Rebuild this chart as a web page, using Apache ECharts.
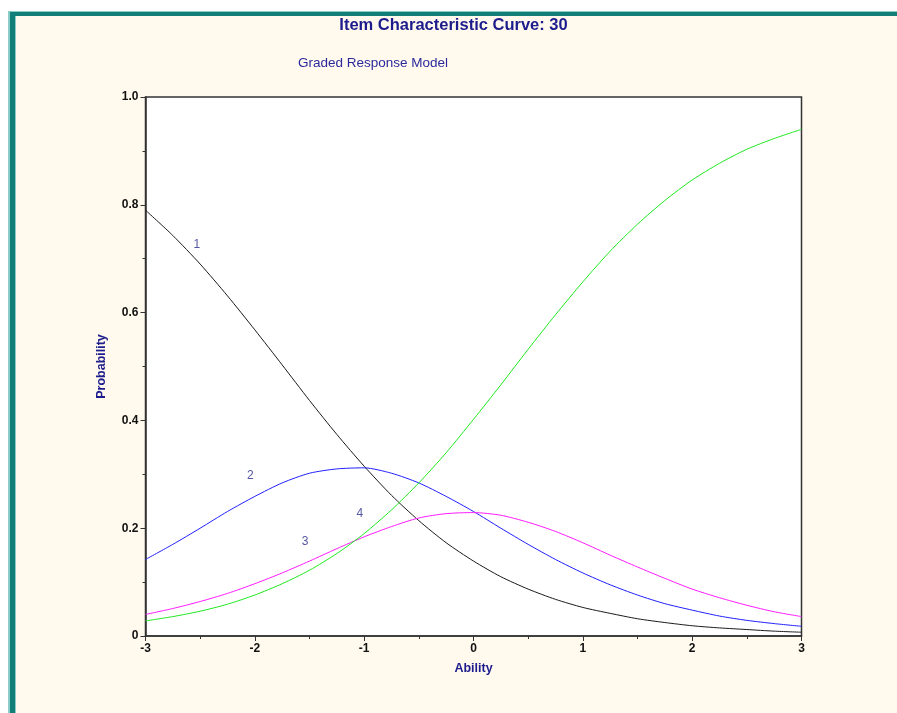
<!DOCTYPE html>
<html>
<head>
<meta charset="utf-8">
<title>Item Characteristic Curve: 30</title>
<script src="https://cdn.jsdelivr.net/npm/echarts@6.0.0/dist/echarts.min.js"></script>
<style>
  html, body { margin: 0; padding: 0; background: #fff; }
  #main { width: 897px; height: 713px; }
</style>
</head>
<body>
<div id="main"></div>
<script>
// ability (theta) points, every 0.25
var ability = [-3, -2.75, -2.5, -2.25, -2, -1.75, -1.5, -1.25, -1, -0.75, -0.5, -0.25,
  0, 0.25, 0.5, 0.75, 1, 1.25, 1.5, 1.75, 2, 2.25, 2.5, 2.75, 3]

// probability of each response category
var cat1 = [0.790, 0.743, 0.690, 0.631, 0.568, 0.503, 0.437, 0.374, 0.315, 0.261, 0.214, 0.173,
  0.139, 0.110, 0.087, 0.068, 0.053, 0.042, 0.032, 0.025, 0.019, 0.015, 0.012, 0.009, 0.007]
var cat2 = [0.142, 0.170, 0.200, 0.231, 0.259, 0.284, 0.302, 0.310, 0.312, 0.302, 0.284, 0.259,
  0.231, 0.200, 0.170, 0.142, 0.117, 0.095, 0.076, 0.060, 0.048, 0.037, 0.029, 0.023, 0.018]
var cat3 = [0.040, 0.051, 0.064, 0.079, 0.097, 0.117, 0.139, 0.162, 0.184, 0.203, 0.219, 0.227,
  0.229, 0.224, 0.211, 0.194, 0.173, 0.150, 0.128, 0.107, 0.087, 0.071, 0.057, 0.045, 0.036]
var cat4 = [0.028, 0.036, 0.046, 0.059, 0.076, 0.097, 0.122, 0.153, 0.190, 0.234, 0.284, 0.340,
  0.402, 0.466, 0.532, 0.596, 0.657, 0.714, 0.764, 0.808, 0.846, 0.877, 0.903, 0.923, 0.940]

// curve number labels written inside the plot
var labelText = ['1', '2', '3', '4']
var labelX = [-2.53, -2.04, -1.54, -1.04]
var labelY = [0.726, 0.297, 0.175, 0.227]

var xTicks = [-3, -2, -1, 0, 1, 2, 3]
var yTicks = [0, 0.2, 0.4, 0.6, 0.8, 1.0]

var navy = '#1c1c8c'

function pairs(ys) {
  return ability.map(function (x, i) { return [x, ys[i]] })
}

function curve(name, ys, color) {
  return {
    name: name,
    type: 'line',
    data: pairs(ys),
    showSymbol: false,
    smooth: 0.25,
    lineStyle: { color: color, width: 1 },
    silent: true
  }
}

var myChart = echarts.init(document.getElementById('main'))

var option = {
  backgroundColor: '#fff9ee',
  animation: false,
  textStyle: { fontFamily: '"Liberation Sans", Arial, sans-serif' },
  // window frame (white margin + teal border on top and left)
  graphic: [
    { type: 'rect', shape: { x: 0, y: 0, width: 897, height: 11 }, style: { fill: '#fff' } },
    { type: 'rect', shape: { x: 0, y: 0, width: 8, height: 713 }, style: { fill: '#fff' } },
    { type: 'rect', shape: { x: 8, y: 11, width: 889, height: 2 }, style: { fill: '#8cccc7' } },
    { type: 'rect', shape: { x: 8, y: 11, width: 2, height: 702 }, style: { fill: '#8cccc7' } },
    { type: 'rect', shape: { x: 10, y: 12, width: 887, height: 4 }, style: { fill: '#127e78' } },
    { type: 'rect', shape: { x: 10, y: 12, width: 5, height: 701 }, style: { fill: '#127e78' } },
    { type: 'rect', shape: { x: 15, y: 16, width: 1, height: 697 }, style: { fill: '#8cccc7' } }
  ],
  title: [
    {
      text: 'Item Characteristic Curve: 30',
      left: 453.5, top: 17, textAlign: 'center', padding: 0,
      textStyle: { fontSize: 16.5, fontWeight: 'bold', color: navy }
    },
    {
      text: 'Graded Response Model',
      left: 298, top: 56, padding: 0,
      textStyle: { fontSize: 13.5, fontWeight: 'normal', color: '#2a2a9c' }
    }
  ],
  grid: {
    left: 145.5, right: 95.5, top: 97, bottom: 77,
    show: true, backgroundColor: '#fff', borderColor: '#333', borderWidth: 1.5
  },
  xAxis: {
    type: 'value', min: -3, max: 3, interval: 1,
    name: 'Ability', nameLocation: 'middle', nameGap: 26,
    nameTextStyle: { color: navy, fontWeight: 'bold', fontSize: 12.5 },
    axisLine: { onZero: false, lineStyle: { color: '#333', width: 1.5 } },
    axisTick: { length: 5, inside: false, lineStyle: { color: '#333' } },
    minorTick: { show: true, splitNumber: 2, length: 3, lineStyle: { color: '#333' } },
    axisLabel: {
      margin: 7, color: '#111', fontWeight: 'bold', fontSize: 12,
      formatter: function (v) { return xTicks.indexOf(v) >= 0 ? String(v) : '' }
    },
    splitLine: { show: false }
  },
  yAxis: {
    type: 'value', min: 0, max: 1, interval: 0.2,
    name: 'Probability', nameLocation: 'middle', nameGap: 37,
    nameTextStyle: { color: navy, fontWeight: 'bold', fontSize: 12.5 },
    axisLine: { show: true, onZero: false, lineStyle: { color: '#333', width: 1.5 } },
    axisTick: { show: true, length: 5, lineStyle: { color: '#333' } },
    minorTick: { show: true, splitNumber: 2, length: 3, lineStyle: { color: '#333' } },
    axisLabel: {
      margin: 7, color: '#111', fontWeight: 'bold', fontSize: 12,
      formatter: function (v) {
        if (yTicks.indexOf(v) < 0) return ''
        return v === 0 ? '0' : v.toFixed(1)
      }
    },
    splitLine: { show: false }
  },
  series: [
    curve('1', cat1, '#1a1a1a'),
    curve('2', cat2, '#1f1fff'),
    curve('3', cat3, '#ff1aff'),
    curve('4', cat4, '#1ee81e'),
    {
      name: 'labels',
      type: 'scatter',
      symbolSize: 0,
      silent: true,
      data: labelX.map(function (x, i) { return { value: [x, labelY[i]], name: labelText[i] } }),
      label: {
        show: true, position: 'inside', formatter: '{b}',
        color: '#2a2a8c', fontSize: 12
      }
    }
  ]
}

myChart.setOption(option)
</script>
</body>
</html>
